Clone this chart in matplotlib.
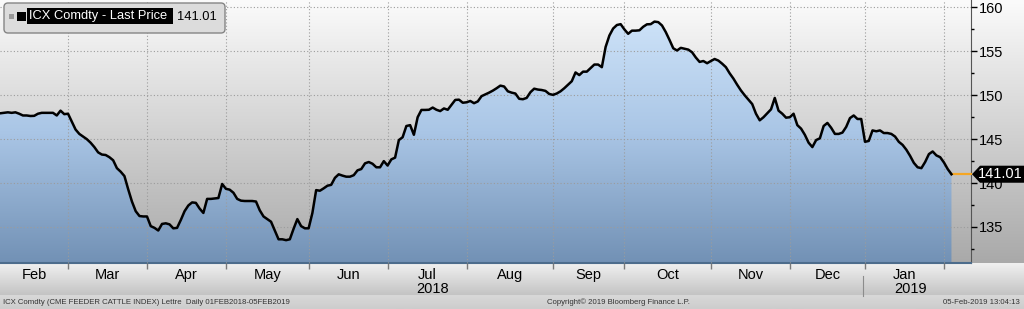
import numpy as np
import matplotlib
matplotlib.use('Agg')
import matplotlib.pyplot as plt
import matplotlib.transforms as mtransforms
from matplotlib.colors import LinearSegmentedColormap, to_rgb
from matplotlib.patches import Polygon, FancyBboxPatch, Rectangle
from matplotlib.lines import Line2D
from matplotlib.ticker import MultipleLocator

plt.rcParams['font.family'] = ['Liberation Sans', 'DejaVu Sans']

# ICX Comdty last price, one list per month (trading days only)
feb18 = [147.95, 147.95, 148.0, 148.06, 148.0, 148.06, 147.9, 147.7, 147.7, 147.64,
         147.66, 147.9, 148.0, 148.0, 148.0, 148.0, 147.7, 148.25, 147.85]
mar18 = [147.9, 147.0, 146.1, 145.6, 145.3, 145.0, 144.6, 144.1, 143.5, 143.25,
         143.2, 142.95, 142.6, 141.7, 141.3, 140.8, 139.3, 137.9, 136.8, 136.25, 136.2]
apr18 = [136.2, 135.1, 134.9, 134.6, 135.35, 135.42, 135.3, 134.85, 134.9, 135.8,
         136.8, 137.45, 137.8, 137.75, 137.1, 136.6, 138.2, 138.2, 138.25, 138.3, 139.9]
may18 = [139.35, 139.25, 138.9, 138.2, 138.0, 137.96, 137.96, 137.96, 137.9, 136.9,
         136.2, 135.9, 135.6, 134.6, 133.6, 133.6, 133.5, 133.6, 134.8, 135.9, 135.1, 134.85]
jun18 = [134.85, 136.6, 139.2, 139.13, 139.4, 139.7, 139.8, 140.6, 141.0, 140.85,
         140.73, 140.73, 140.9, 141.45, 141.6, 142.25, 142.4, 142.2, 141.8, 141.8, 142.5]
jul18 = [142.0, 142.7, 142.9, 144.9, 145.22, 146.5, 146.6, 145.5, 147.5, 148.33,
         148.33, 148.35, 148.6, 148.35, 148.2, 148.5, 148.35, 148.9, 149.47, 149.5, 149.15]
aug18 = [149.2, 149.35, 149.1, 149.3, 149.9, 150.1, 150.3, 150.53, 150.8, 151.1,
         151.0, 150.45, 150.3, 150.2, 149.6, 149.55, 149.7, 150.35, 150.75, 150.65,
         150.6, 150.5, 150.15]
sep18 = [150.05, 150.2, 150.45, 150.8, 151.2, 151.6, 152.6, 152.3, 152.69, 152.69,
         153.1, 153.5, 153.5, 153.2, 155.5, 156.8, 157.6, 158.0, 158.1]
oct18 = [157.5, 157.0, 157.36, 157.36, 157.4, 157.8, 158.08, 158.1, 158.39, 158.33,
         157.95, 157.2, 156.3, 155.35, 155.1, 155.4, 155.3, 155.2, 154.9, 154.3,
         153.8, 153.9, 153.65]
nov18 = [153.9, 154.13, 153.95, 153.6, 153.2, 152.5, 151.9, 151.2, 150.55, 150.0,
         149.5, 149.0, 147.9, 147.15, 147.5, 147.95, 148.4, 149.7, 148.25, 147.9, 147.45]
dec18 = [147.5, 147.9, 146.6, 146.2, 145.5, 144.6, 144.1, 144.9, 145.1, 146.5,
         146.85, 146.3, 145.6, 145.6, 145.75, 146.4, 147.4, 147.7, 147.3, 147.3]
jan19 = [144.7, 144.8, 146.0, 145.9, 146.0, 145.7, 145.7, 145.6, 145.3, 144.7,
         144.35, 143.8, 143.1, 142.3, 141.8, 141.7, 142.4, 143.3, 143.6, 143.15, 142.95]
feb19 = [142.35, 141.6, 141.01]

months = [feb18, mar18, apr18, may18, jun18, jul18, aug18, sep18, oct18, nov18,
          dec18, jan19, feb19]
month_names = ['Feb', 'Mar', 'Apr', 'May', 'Jun', 'Jul', 'Aug', 'Sep', 'Oct', 'Nov',
               'Dec', 'Jan']
year_under = {'Jul': '2018', 'Jan': '2019'}
last_price = feb19[-1]

values = np.concatenate(months)
x = np.arange(len(values))
starts = np.cumsum([0] + [len(m) for m in months])

x_left, x_right = 0.9, 259.2
y_bot, y_top = 130.9, 160.85

W, H = 1024, 309
fig = plt.figure(figsize=(W / 100, H / 100), dpi=100)
# pixel coords, origin top-left
pix = mtransforms.Affine2D().scale(1 / W, -1 / H).translate(0, 1) + fig.transFigure

# whole-figure background gradient
def ramp(c0, c1, n):
    a, b = np.array(to_rgb(c0)), np.array(to_rgb(c1))
    t = np.linspace(0, 1, n)[:, None]
    return a + (b - a) * t

bg = np.vstack([ramp('#fbfbfb', '#a9a9a9', 263),
                ramp('#f0f0f0', '#c4c4c4', 32),
                ramp('#d8d8d8', '#cdcdcd', 14)])
bgax = fig.add_axes([0, 0, 1, 1], zorder=-1)
bgax.imshow(bg[:, None, :], aspect='auto', extent=[0, 1, 0, 1], interpolation='bilinear')
bgax.axis('off')

ax = fig.add_axes([0, 46 / H, 971 / W, 263 / H])
ax.patch.set_visible(False)

# gradient-filled area under the curve
area = ax.fill_between(x, values, y_bot, facecolor='none', edgecolor='none')
blue = LinearSegmentedColormap.from_list('blue', ['#d3e7fb', '#aac6e6', '#7291b5'])
img = ax.imshow(np.linspace(0, 1, 256).reshape(-1, 1), cmap=blue, aspect='auto',
                extent=[x_left, x_right, y_bot, y_top], zorder=1, interpolation='bilinear')
img.set_clip_path(area.get_paths()[0], ax.transData)

ax.plot(x, values, color='black', lw=1.8, zorder=4, solid_joinstyle='round')
ax.plot([x[-1], x_right], [last_price, last_price], color='#f5a623', lw=1.6,
        zorder=3, clip_on=False)

ax.set_xlim(x_left, x_right)
ax.set_ylim(y_bot, y_top)

ax.set_axisbelow(False)
ax.set_xticks(starts[1:-1])
ax.set_xticklabels([])
ax.tick_params(axis='x', length=4, width=1, color='#7a7a7a', direction='out')
ax.yaxis.tick_right()
ax.yaxis.set_major_locator(MultipleLocator(5))
ax.yaxis.set_minor_locator(MultipleLocator(2.5))
ax.tick_params(axis='y', which='major', length=4, width=1, color='black',
               labelsize=10.5, pad=2)
ax.tick_params(axis='y', which='minor', length=2.5, width=1, color='black')
ax.grid(which='major', color='#9c9c9c', lw=0.8, ls=(0, (1, 2)), zorder=2)

for s in ['left', 'top']:
    ax.spines[s].set_visible(False)
ax.spines['right'].set_color('#555555')
ax.spines['bottom'].set_color('#4c6c8c')
ax.spines['bottom'].set_linewidth(1.5)

# month / year labels under the axis
xlab = mtransforms.blended_transform_factory(ax.transData, pix)
for k, name in enumerate(month_names):
    c = (max(starts[k], x_left) + starts[k + 1]) / 2
    ax.text(c, 275, name, transform=xlab, ha='center', va='center', fontsize=10.5,
            clip_on=False)
    if name in year_under:
        ax.text(c + 1.5, 289, year_under[name], transform=xlab, ha='center',
                va='center', fontsize=10.5, clip_on=False)
ax.add_line(Line2D([starts[11] - 0.5] * 2, [276, 296], transform=xlab,
                   color='#8c8c8c', lw=0.8, clip_on=False))

# last price tag on the right axis
ylab = mtransforms.blended_transform_factory(pix, ax.transData)
h = 0.97
tag = Polygon([(972, last_price), (980, last_price + h), (1024, last_price + h),
               (1024, last_price - h), (980, last_price - h)],
              closed=True, transform=ylab, facecolor='black', edgecolor='none',
              zorder=10, clip_on=False)
ax.add_patch(tag)
ax.text(1000, last_price, f'{last_price:.2f}', transform=ylab, color='white',
        ha='center', va='center', fontsize=10.5, zorder=11, clip_on=False)

# legend box
fig.add_artist(FancyBboxPatch((4, 3), 221, 30, boxstyle='round,pad=0,rounding_size=4',
                              transform=pix, facecolor='#dcdcdc', edgecolor='#858585',
                              lw=1))
fig.add_artist(Rectangle((9, 14), 5, 5, transform=pix, facecolor='#9a9a9a',
                         edgecolor='none'))
fig.add_artist(Rectangle((17, 12), 9, 9, transform=pix, facecolor='black',
                         edgecolor='none'))
fig.add_artist(Rectangle((27, 8), 146, 16, transform=pix, facecolor='black',
                         edgecolor='none'))
fig.text(29, 16.5, 'ICX Comdty - Last Price', transform=pix, color='white',
         va='center', ha='left', fontsize=9.3)
fig.text(177, 16.5, f'{last_price:.2f}', transform=pix, color='black',
         va='center', ha='left', fontsize=9.3)

# footer
fig.text(3, 302, 'ICX Comdty (CME FEEDER CATTLE INDEX) Lettre  Daily 01FEB2018-05FEB2019',
         transform=pix, fontsize=5.6, color='#333333', va='center', ha='left')
fig.text(618, 302, 'Copyright\u00a9 2019 Bloomberg Finance L.P.', transform=pix,
         fontsize=5.6, color='#333333', va='center', ha='center')
fig.text(1020, 302, '05-Feb-2019 13:04:13', transform=pix, fontsize=5.6,
         color='#333333', va='center', ha='right')

fig.savefig('out.png', dpi=100)
